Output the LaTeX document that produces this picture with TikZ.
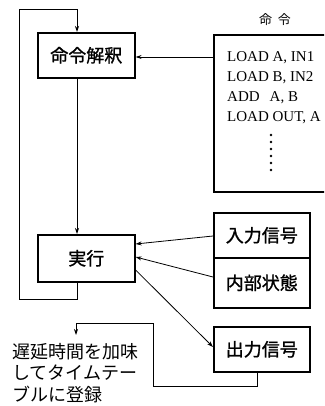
\documentclass[tikz,border=0pt]{standalone}
\usepackage{fontspec}
\setmainfont{Liberation Serif}
\newfontfamily\jp{Noto Sans CJK JP}
\newfontfamily\jpb[FakeBold=1.2]{Noto Sans CJK JP}
\usetikzlibrary{arrows.meta}
\begin{document}
\begin{tikzpicture}[x=1pt,y=-1pt,
  box/.style={draw,line width=1.6pt,inner sep=0pt,anchor=north west},
  lab/.style={font=\jpb\fontsize{18}{18}\selectfont},
  conn/.style={line width=0.8pt},
  arr/.style={conn,-{Stealth[length=6pt,width=4pt]}},
  code/.style={anchor=base west,inner sep=0pt,font=\fontsize{15}{15}\selectfont}]
\useasboundingbox (0,0) rectangle (324,406);
\clip (0,0) rectangle (324,406);
% boxes
\node[box,minimum width=97pt,minimum height=45pt] (interp) at (37,32) {};
\node[lab] at (interp.center) {命令解釈};
\node[box,minimum width=97pt,minimum height=47pt] (exec) at (37,234) {};
\node[lab] at (exec.center) {実行};
\node[box,minimum width=120pt,minimum height=157pt] (prog) at (213,34) {};
\node[box,minimum width=96pt,minimum height=45pt] (inp) at (213,212) {};
\node[lab] at (inp.center) {入力信号};
\node[box,minimum width=96pt,minimum height=50pt] (state) at (213,257) {};
\node[lab] at (state.center) {内部状態};
\node[box,minimum width=96pt,minimum height=45pt] (out) at (213,326) {};
\node[lab] at (out.center) {出力信号};
% label
\node[font=\jp\fontsize{13}{13}\selectfont] (plab) at (275,20) {命\hspace{6pt}令};
% code
\node[code] (l1) at (227,62) {LOAD A, IN1};
\node[code] (l2) at (227,82) {LOAD B, IN2};
\node[code] (l3) at (227,102) {ADD\hspace{10pt}A, B};
\node[code] (l4) at (227,122) {LOAD OUT, A};
\foreach \yy in {135,142,149,156,163,170} \fill (271,\yy) circle (1.3pt);
% text
\node[anchor=north west,inner sep=0pt,align=left,font=\jp\fontsize{18}{21.5}\selectfont] (note) at (12,343)
  {遅延時間を加味\\してタイムテー\\ブルに登録};
% coordinates
\coordinate (lx) at (77,0);
\coordinate (ay) at (0,57);
\coordinate (tx) at (76,335);
% connectors
\draw[arr] (exec.south -| lx) -- (77,299) -- (19,299) -- (19,9) -- (77,9) -- (interp.north -| lx);
\draw[arr] (prog.west |- ay) -- (interp.east |- ay);
\draw[arr] (interp.south -| lx) -- (exec.north -| lx);
\draw[arr] (inp.west |- 0,236) -- (exec.east |- 0,244);
\draw[arr] (state.west |- 0,277) -- (exec.east |- 0,257);
\draw[arr] (exec.east |- 0,270) -- (out.west |- 0,347);
\draw[arr] (out.south -| 257,0) -- (257,386) -- (153,386) -- (153,323) -- (76,323) -- (tx);
\end{tikzpicture}
\end{document}
